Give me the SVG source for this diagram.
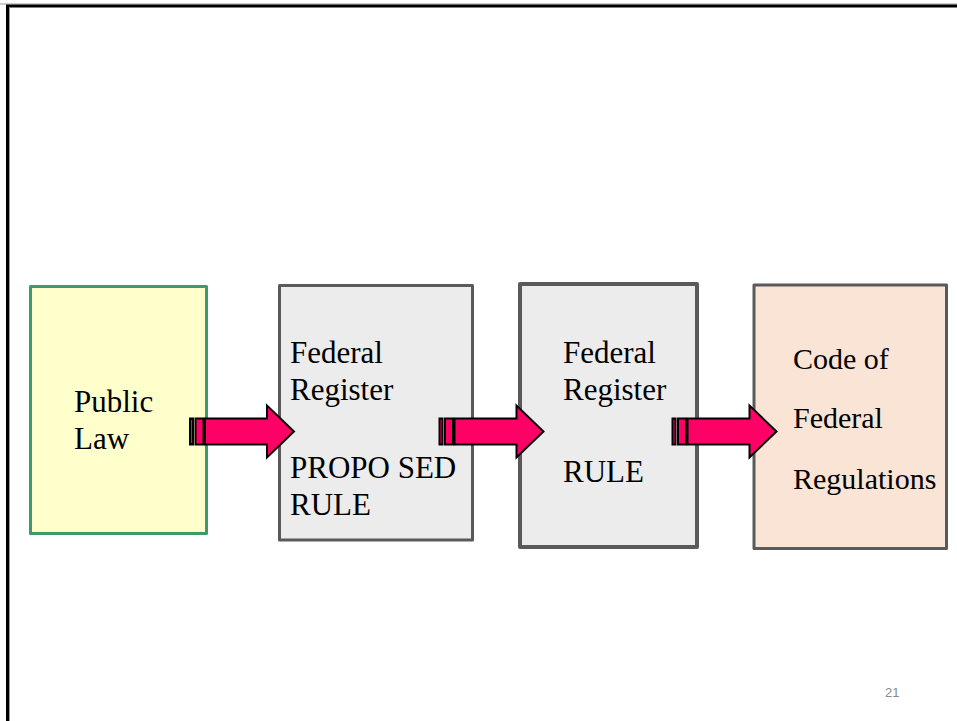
<svg xmlns="http://www.w3.org/2000/svg" width="957" height="721" viewBox="0 0 957 721">
  <defs>
    <style>
      .frame { fill: none; stroke: #000; stroke-width: 3; }
      .frame-edge { fill: none; stroke: #9a9a9a; stroke-width: 1; }
      .box { stroke-width: 3; stroke-linejoin: round; }
      .law { fill: #ffffcc; stroke: #3a9b6b; }
      .reg { fill: #ececec; stroke: #5a5a5a; }
      .cfr { fill: #fae4d6; stroke: #5a5a5a; }
      .label { font-family: "Liberation Serif", "Times New Roman", serif; font-size: 30px; fill: #000; }
      .wide { font-size: 31px; }
      .arrow { fill: #ff0066; stroke: #000; stroke-width: 2; stroke-linejoin: miter; }
      .pagenum { font-family: "Liberation Sans", Arial, sans-serif; font-size: 13px; fill: #8a8a8a; }
    </style>
    <!-- striped block arrow, drawn from its tail at x=0, centred on y=0 -->
    <g id="striped-arrow">
      <rect class="arrow" x="1" y="-13" width="3" height="26"/>
      <rect class="arrow" x="6.5" y="-13" width="8" height="26"/>
      <path class="arrow" d="M16,-13 H78 V-26 L105,0 L78,26 V13 H16 Z"/>
    </g>
  </defs>

  <!-- page frame -->
  <path class="frame-edge" d="M0,4 H957"/>
  <path class="frame-edge" d="M9.5,721 V8"/>
  <path class="frame" d="M7.5,721 V6 H957"/>

  <!-- nodes -->
  <g id="public-law">
    <rect class="box law" x="30.5" y="286.5" width="176" height="247"/>
    <text class="label wide" x="74" y="412">Public</text>
    <text class="label wide" x="74" y="449">Law</text>
  </g>

  <g id="proposed-rule">
    <rect class="box reg" x="279.5" y="285.5" width="193" height="254.5"/>
    <text class="label wide" x="290" y="363">Federal</text>
    <text class="label wide" x="290" y="400">Register</text>
    <text class="label wide" x="290" y="478">PROPO SED</text>
    <text class="label wide" x="290" y="515">RULE</text>
  </g>

  <g id="final-rule">
    <rect class="box reg" x="520" y="284" width="177" height="263" style="stroke-width:4"/>
    <text class="label wide" x="563" y="363">Federal</text>
    <text class="label wide" x="563" y="400">Register</text>
    <text class="label wide" x="563" y="482">RULE</text>
  </g>

  <g id="cfr">
    <rect class="box cfr" x="754" y="285" width="192.5" height="263.5"/>
    <text class="label" x="793" y="369">Code of</text>
    <text class="label" x="793" y="428">Federal</text>
    <text class="label" x="793" y="489">Regulations</text>
  </g>

  <!-- connectors -->
  <g id="connectors">
    <use href="#striped-arrow" x="189" y="431.5"/>
    <use href="#striped-arrow" x="438.5" y="431.5"/>
    <use href="#striped-arrow" x="671.5" y="431.5"/>
  </g>

  <!-- slide number -->
  <text class="pagenum" x="885" y="697">21</text>
</svg>
